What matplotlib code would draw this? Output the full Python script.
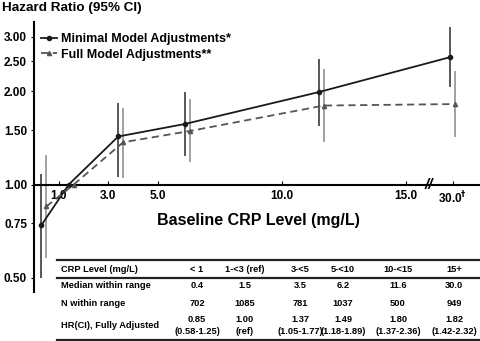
import matplotlib
matplotlib.use("Agg")
import matplotlib.pyplot as plt
from matplotlib.lines import Line2D
import numpy as np

plt.rcParams['font.family'] = ['Liberation Sans', 'DejaVu Sans']
plt.rcParams['font.weight'] = 'bold'

# CRP medians per category (mg/L)
crp_median = [0.4, 1.5, 3.5, 6.2, 11.6, 30.0]

# minimal model adjustments
hr_min = [0.74, 1.00, 1.43, 1.57, 1.99, 2.58]
lo_min = [0.50, 1.00, 1.06, 1.24, 1.55, 2.07]
hi_min = [1.08, 1.00, 1.84, 1.99, 2.54, 3.22]

# full model adjustments (from the table)
hr_full = [0.85, 1.00, 1.37, 1.49, 1.80, 1.82]
lo_full = [0.58, 1.00, 1.05, 1.18, 1.37, 1.42]
hi_full = [1.25, 1.00, 1.77, 1.89, 2.36, 2.32]

xticks = [1.0, 3.0, 5.0, 10.0, 15.0, 30.0]
yticks = [0.50, 0.75, 1.00, 1.50, 2.00, 2.50, 3.00]

# table
tab_header = ["CRP Level (mg/L)", "< 1", "1-<3 (ref)", "3-<5", "5-<10", "10-<15", "15+"]
tab_median = ["0.4", "1.5", "3.5", "6.2", "11.6", "30.0"]
tab_n = ["702", "1085", "781", "1037", "500", "949"]
tab_hr = ["0.85", "1.00", "1.37", "1.49", "1.80", "1.82"]
tab_ci = ["(0.58-1.25)", "(ref)", "(1.05-1.77)", "(1.18-1.89)", "(1.37-2.36)", "(1.42-2.32)"]
row_labels = ["Median within range", "N within range", "HR(CI), Fully Adjusted"]

# broken x axis: values above 15 are squeezed next to the break
BREAK = 15.0
def xpos(v):
    v = np.asarray(v, dtype=float)
    return np.where(v <= BREAK, v, 16.9)

fig = plt.figure(figsize=(4.8, 3.41), dpi=100)
ax = fig.add_axes([34/480, 49/341, 446/480, 270/341])
ax.set_yscale('log')
ax.set_xlim(0, 18)
ax.set_ylim(0.45, 3.35)

xm = xpos(crp_median) - 0.1
xf = xpos(crp_median) + 0.1

ax.vlines(xm, lo_min, hi_min, color='#2a2a2a', lw=1.1, zorder=2)
ax.vlines(xf, lo_full, hi_full, color='#888888', lw=1.1, zorder=2)
ax.plot(xm, hr_min, '-', color='#1a1a1a', lw=1.3, marker='o', ms=3,
        label='Minimal Model Adjustments*', zorder=3)
ax.plot(xf, hr_full, '--', color='#555555', lw=1.3, marker='^', ms=3,
        dashes=(4, 2.5), label='Full Model Adjustments**', zorder=3)

for s in ['top', 'right']:
    ax.spines[s].set_visible(False)
ax.spines['bottom'].set_position(('data', 1.0))
ax.spines['bottom'].set_linewidth(1.5)
ax.spines['left'].set_linewidth(1.5)

ax.set_yticks(yticks)
ax.set_yticklabels(['%.2f' % t for t in yticks])
ax.yaxis.set_minor_locator(matplotlib.ticker.NullLocator())
ax.tick_params(axis='y', direction='out', length=2, labelsize=8.5, pad=3)

ax.set_xticks(xpos(xticks))
ax.set_xticklabels(['%.1f' % t for t in xticks[:-1]] + ['30.0$^{\\dagger}$'])
ax.tick_params(axis='x', direction='in', length=3, labelsize=8.5, pad=4)

# axis break marker
ax.text((BREAK + 16.9) / 2, 1.0, '//', ha='center', va='center', fontsize=11,
        style='italic')

ax.legend(loc='upper left', bbox_to_anchor=(36/480, 1 - 28/341),
          bbox_transform=fig.transFigure, frameon=False, fontsize=9,
          handlelength=1.3, handletextpad=0.3, labelspacing=0.3, borderaxespad=0)

fig.text(2/480, 1 - 8/341, 'Hazard Ratio (95% CI)', fontsize=9.7, fontweight='bold',
         ha='left', va='center')
fig.text(258/480, 1 - 220/341, 'Baseline CRP Level (mg/L)', fontsize=11.5,
         fontweight='bold', ha='center', va='center')

# table below the plot
col_x = [197, 245, 300, 343, 398, 454]
fs = 6.7
def fy(py):
    return 1 - py / 341
for px, lab in zip([61] + col_x, tab_header):
    fig.text(px / 480, fy(269), lab, fontsize=fs, ha='left' if px == 61 else 'center', va='center')
fig.text(61 / 480, fy(286), row_labels[0], fontsize=fs, va='center')
fig.text(61 / 480, fy(303), row_labels[1], fontsize=fs, va='center')
fig.text(61 / 480, fy(325), row_labels[2], fontsize=fs, va='center')
for px, m, n, h, c in zip(col_x, tab_median, tab_n, tab_hr, tab_ci):
    fig.text(px / 480, fy(286), m, fontsize=fs, ha='center', va='center')
    fig.text(px / 480, fy(303), n, fontsize=fs, ha='center', va='center')
    fig.text(px / 480, fy(319), h, fontsize=fs, ha='center', va='center')
    fig.text(px / 480, fy(332), c, fontsize=fs, ha='center', va='center')
for py, lw in [(260, 1.6), (278, 1.6), (340, 1.6)]:
    fig.add_artist(Line2D([57 / 480, 1.0], [fy(py), fy(py)], color='#222222', lw=lw))

fig.savefig('out.png', dpi=100)
